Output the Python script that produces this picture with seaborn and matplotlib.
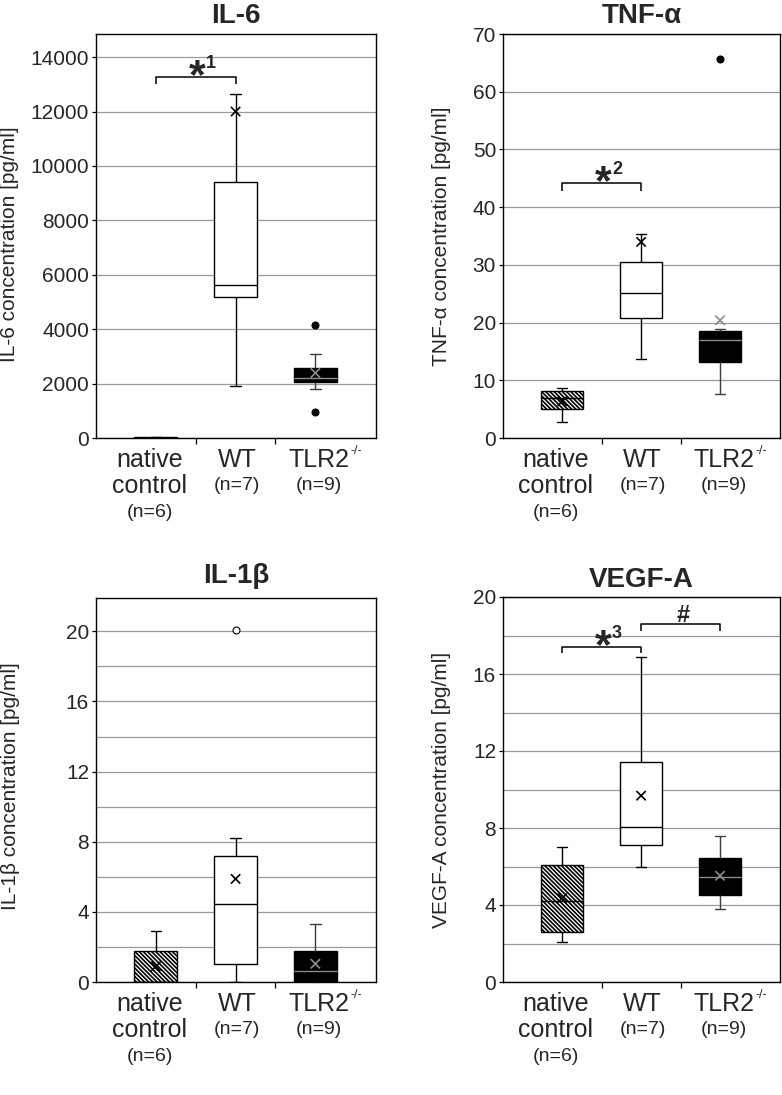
import numpy as np
import pandas as pd
import matplotlib.pyplot as plt
import seaborn as sns

# groups on the x axis
groups = ["native control", "WT", "TLR2-/-"]
main_labels = [["native", "control"], ["WT"], ["TLR2"]]
label_sups = ["", "", "-/-"]
n_labels = ["(n=6)", "(n=7)", "(n=9)"]

# box statistics: whisker low, Q1, median, Q3, whisker high, mean marker, outliers
il6_lo = [0, 1923, 1813]
il6_q1 = [0, 5169, 2070]
il6_med = [0, 5610, 2205]
il6_q3 = [20, 9407, 2572]
il6_hi = [20, 12641, 3087]
il6_mean = [np.nan, 12000, 2390]
il6_out = [[], [], [968, 4140]]

tnf_lo = [2.83, 13.75, 7.68]
tnf_q1 = [5.0, 20.85, 13.1]
tnf_med = [6.87, 25.1, 17.04]
tnf_q3 = [8.2, 30.5, 18.55]
tnf_hi = [8.67, 35.35, 18.9]
tnf_mean = [6.35, 33.97, 20.4]
tnf_out = [[], [], [65.7]]

il1b_lo = [0, 0, 0]
il1b_q1 = [0, 1.04, 0]
il1b_med = [0, 4.47, 0.6]
il1b_q3 = [1.77, 7.2, 1.75]
il1b_hi = [2.9, 8.2, 3.3]
il1b_mean = [0.89, 5.88, 1.04]
il1b_out = [[], [20.1], []]

vegf_lo = [2.1, 5.96, 3.81]
vegf_q1 = [2.6, 7.1, 4.54]
vegf_med = [4.19, 8.03, 5.44]
vegf_q3 = [6.06, 11.43, 6.44]
vegf_hi = [7.01, 16.87, 7.6]
vegf_mean = [4.36, 9.68, 5.52]
vegf_out = [[], [], []]

# significance brackets: (from group, to group, height, leg end, mark, superscript)
il6_sig = [(0, 1, 13270, 13010, "*", "1")]
tnf_sig = [(0, 1, 44.2, 42.8, "*", "2")]
il1b_sig = []
vegf_sig = [(0, 1, 17.4, 17.1, "*", "3"), (1, 2, 18.6, 18.23, "#", "")]


def expand(lo, q1, med, q3, hi, out):
    """Build a sample whose boxplot statistics equal the given summary."""
    out_lo = [v for v in out if v < lo]
    out_hi = [v for v in out if v > hi]
    a, b = len(out_lo), len(out_hi)
    k = max(a, b) + 1
    return out_lo + [lo] + [q1] * (k - a) + [med] * k + [q3] * (2 * k - b - 1) + [hi] + out_hi


panels = [
    dict(title="IL-6", ylabel="IL-6 concentration [pg/ml]", ylim=14850, major=2000, minor=2000,
         stats=(il6_lo, il6_q1, il6_med, il6_q3, il6_hi, il6_out), mean=il6_mean, sig=il6_sig,
         rect=(96, 376, 34, 438), labx=-0.275, laby=0.48, pad=8, open_flier=False),
    dict(title="TNF-α", ylabel="TNF-α concentration [pg/ml]", ylim=70, major=10, minor=10,
         stats=(tnf_lo, tnf_q1, tnf_med, tnf_q3, tnf_hi, tnf_out), mean=tnf_mean, sig=tnf_sig,
         rect=(503, 780, 34, 438), labx=-0.187, laby=0.5, pad=8, open_flier=False),
    dict(title="IL-1β", ylabel="IL-1β concentration [pg/ml]", ylim=21.9, major=4, minor=2,
         stats=(il1b_lo, il1b_q1, il1b_med, il1b_q3, il1b_hi, il1b_out), mean=il1b_mean, sig=il1b_sig,
         rect=(96, 376, 598, 982), labx=-0.271, laby=0.51, pad=11, open_flier=True),
    dict(title="VEGF-A", ylabel="VEGF-A concentration [pg/ml]", ylim=20, major=4, minor=2,
         stats=(vegf_lo, vegf_q1, vegf_med, vegf_q3, vegf_hi, vegf_out), mean=vegf_mean, sig=vegf_sig,
         rect=(503, 780, 597, 982), labx=-0.187, laby=0.5, pad=7, open_flier=False),
]

sns.set_style("white")
plt.rcParams["font.family"] = ["Liberation Sans", "DejaVu Sans"]
plt.rcParams["hatch.linewidth"] = 1.2

W, H = 782, 1095
fig = plt.figure(figsize=(W / 100, H / 100), dpi=100)

fills = ["white", "white", "black"]
whisker_colors = ["black", "black", "#3c3c3c"]
median_colors = ["black", "black", "#8c8c8c"]
mean_colors = ["black", "black", "#8c8c8c"]
label_shift = [-0.08, 0.02, 0.05]

for p in panels:
    l, r, t, b = p["rect"]
    ax = fig.add_axes([l / W, (H - b) / H, (r - l) / W, (b - t) / H])
    ax.set_axisbelow(True)

    lo, q1, med, q3, hi, out = p["stats"]
    for i, g in enumerate(groups):
        vals = expand(lo[i], q1[i], med[i], q3[i], hi[i], out[i])
        fc = "white" if p["open_flier"] else "black"
        sns.boxplot(x=[g] * len(vals), y=vals, order=groups, ax=ax, width=0.54,
                    color=fills[i], saturation=1, linecolor="black", linewidth=1.0,
                    capwidths=0.13,
                    whiskerprops=dict(color=whisker_colors[i], linewidth=1.0),
                    capprops=dict(color=whisker_colors[i], linewidth=1.0),
                    medianprops=dict(color=median_colors[i], linewidth=1.0),
                    flierprops=dict(marker="o", markersize=5, markerfacecolor=fc,
                                    markeredgecolor="black", markeredgewidth=0.8))
        if i == 0:
            ax.patches[-1].set_hatch("\\" * 8)

    pos = np.arange(len(groups))
    means = np.array(p["mean"], dtype=float)
    ok = ~np.isnan(means)
    sns.scatterplot(x=pos[ok], y=means[ok], hue=pos[ok], palette=dict(enumerate(mean_colors)),
                    marker="x", s=45, linewidth=1.2, legend=False, ax=ax, zorder=5)

    ax.set_xlim(-0.75, 2.76)
    ax.set_ylim(0, p["ylim"])
    ax.set_yticks(np.arange(0, p["ylim"] + 1e-9, p["major"]))
    ax.set_yticks(np.arange(0, p["ylim"] + 1e-9, p["minor"]), minor=True)
    ax.grid(axis="y", which="both", color="#9a9a9a", linewidth=0.9)
    ax.tick_params(axis="y", which="major", direction="out", length=3, width=0.9,
                   labelsize=15, pad=2, left=True, color="black")
    ax.tick_params(axis="y", which="minor", length=0)

    ax.set_xticks([])
    ax.set_xticks([0.5, 1.5], minor=True)
    ax.tick_params(axis="x", which="minor", direction="out", length=4, width=0.9,
                   bottom=True, color="black")
    ax.set_xlabel("")

    for s in ax.spines.values():
        s.set_color("black")
        s.set_linewidth(1.0)

    ax.set_title(p["title"], fontsize=20, fontweight="bold", pad=p["pad"])
    ax.set_ylabel(p["ylabel"], fontsize=15)
    ax.yaxis.set_label_coords(p["labx"], p["laby"])

    # category labels under the axis
    tr = ax.get_xaxis_transform()
    for i in range(len(groups)):
        lines = main_labels[i] + [n_labels[i]]
        for j, txt in enumerate(lines):
            small = j == len(lines) - 1
            ax.annotate(txt, xy=(i + label_shift[i], 0), xycoords=tr,
                        xytext=(0, -15.5 - 19 * j), textcoords="offset points",
                        ha="center", va="center", fontsize=14 if small else 18,
                        annotation_clip=False)
        if label_sups[i]:
            ax.annotate(label_sups[i], xy=(i + label_shift[i], 0), xycoords=tr,
                        xytext=(22.5, -9), textcoords="offset points",
                        ha="left", va="center", fontsize=9, annotation_clip=False)

    # significance brackets
    for g0, g1, yb, yl, mark, sup in p["sig"]:
        ax.plot([g0, g0, g1, g1], [yl, yb, yb, yl], color="black", linewidth=1.1,
                solid_capstyle="butt", clip_on=False)
        mid = (g0 + g1) / 2
        if mark == "*":
            ax.annotate(mark, xy=(mid, yb), xytext=(1, -8), textcoords="offset points",
                        ha="center", va="baseline", fontsize=31, fontweight="bold")
            ax.annotate(sup, xy=(mid, yb), xytext=(11, 6.5), textcoords="offset points",
                        ha="center", va="baseline", fontsize=13, fontweight="bold")
        else:
            ax.annotate(mark, xy=(mid, yb), xytext=(2, 1.5), textcoords="offset points",
                        ha="center", va="baseline", fontsize=17, fontweight="bold")

fig.savefig("out.png", dpi=100)
